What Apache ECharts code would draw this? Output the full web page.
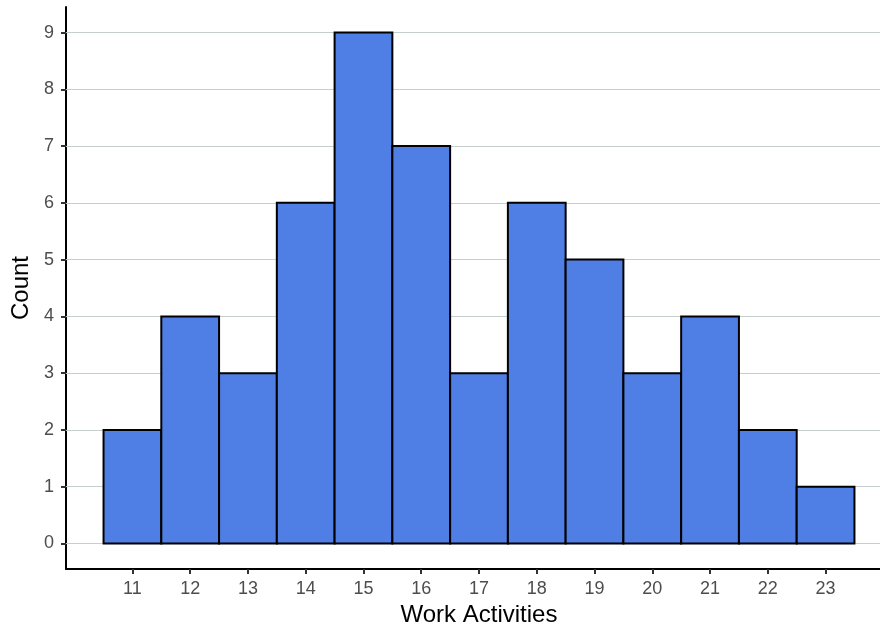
<!DOCTYPE html>
<html><head><meta charset="utf-8">
<script src="https://cdn.jsdelivr.net/npm/echarts@6/dist/echarts.min.js"></script>
<style>html,body{margin:0;padding:0;background:#fff}#c{width:880px;height:628px}</style>
</head><body><div id="c"></div>
<script>
const binCenters = [11, 12, 13, 14, 15, 16, 17, 18, 19, 20, 21, 22, 23];
const counts = [2, 4, 3, 6, 9, 7, 3, 6, 5, 3, 4, 2, 1];
const xTicks = [11, 12, 13, 14, 15, 16, 17, 18, 19, 20, 21, 22, 23];
const yTicks = [0, 1, 2, 3, 4, 5, 6, 7, 8, 9];
const binWidth = 1;

const chart = echarts.init(document.getElementById('c'));
const data = binCenters.map((c, i) => [c - binWidth / 2, c + binWidth / 2, counts[i]]);
const font = 'Liberation Sans, Arial, sans-serif';
chart.setOption({
  animation: false,
  grid: { left: 66, right: -12, top: 7, bottom: 59, containLabel: false, outerBoundsMode: 'none' },
  xAxis: {
    type: 'value', min: 9.85, max: 24.15,
    name: 'Work Activities', nameLocation: 'middle', nameGap: 32,
    nameTextStyle: { fontSize: 24, color: '#000', fontFamily: font },
    axisLine: { show: true, onZero: false, lineStyle: { color: '#000', width: 2 } },
    axisTick: { show: true, length: 5, lineStyle: { color: '#333', width: 2 }, customValues: xTicks },
    axisLabel: { fontSize: 18, color: '#4d4d4d', fontFamily: font, margin: 11, customValues: xTicks },
    splitLine: { show: false }
  },
  yAxis: {
    type: 'value', min: -0.45, max: 9.45,
    name: 'Count', nameLocation: 'middle', nameGap: 31, nameRotate: 90,
    nameTextStyle: { fontSize: 24, color: '#000', fontFamily: font },
    axisLine: { show: true, onZero: false, lineStyle: { color: '#000', width: 2 } },
    axisTick: { show: true, length: 5, lineStyle: { color: '#333', width: 2 }, customValues: yTicks },
    axisLabel: { fontSize: 18, color: '#4d4d4d', fontFamily: font, margin: 12, customValues: yTicks },
    splitLine: { show: false }
  },
  series: [{
    type: 'line', data: [], silent: true, z: 1,
    markLine: {
      silent: true, symbol: 'none', label: { show: false }, z: 1,
      lineStyle: { color: '#c5cfcf', width: 1.2, type: 'solid' },
      data: yTicks.map(v => ({ yAxis: v }))
    }
  }, {
    type: 'custom', z: 5,
    renderItem: function (params, api) {
      const p0 = api.coord([api.value(0), 0]);
      const p1 = api.coord([api.value(1), api.value(2)]);
      return {
        type: 'rect',
        shape: { x: p0[0], y: p1[1], width: p1[0] - p0[0], height: p0[1] - p1[1] },
        style: { fill: '#4f7fe5', stroke: '#000', lineWidth: 2 }
      };
    },
    encode: { x: [0, 1], y: 2 },
    data: data
  }]
});
</script></body></html>
